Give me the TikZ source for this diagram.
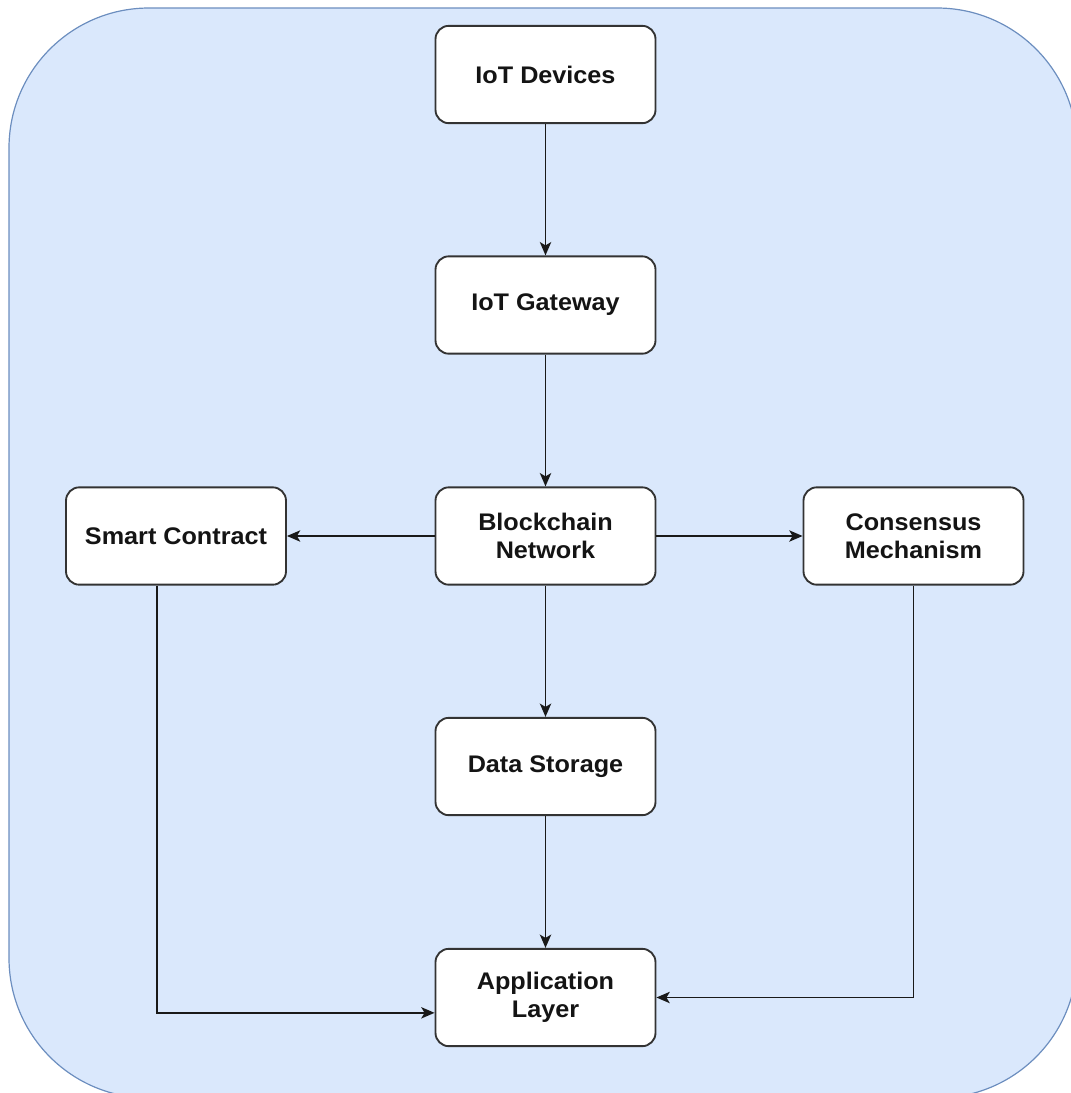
\documentclass[tikz,border=0pt]{standalone}
\usepackage{fontspec}
\setmainfont[FakeStretch=1.05]{Liberation Sans}
\usetikzlibrary{arrows.meta}
\definecolor{bgfill}{HTML}{DAE8FC}
\definecolor{bgline}{HTML}{6C8EBF}
\definecolor{boxline}{HTML}{333333}
\definecolor{txt}{HTML}{141414}
\tikzset{
  blk/.style={draw=boxline, line width=1.4pt, fill=white, rounded corners=10pt,
    minimum width=165pt, minimum height=73pt, align=center, text=txt,
    font=\fontsize{18pt}{21pt}\selectfont\bfseries, inner sep=2pt},
  arr/.style={draw=black!90, line width=1.25pt, -{Stealth[length=10pt,width=8.5pt,inset=2.5pt]}}
}
\begin{document}
\begin{tikzpicture}[x=0.75pt,y=-0.75pt]
\useasboundingbox (0,0) rectangle (1071,1093);
\begin{scope}
\clip (0,0) rectangle (1071,1093);
\draw[fill=bgfill, draw=bgline, line width=0.9pt, rounded corners=105pt] (9,8) rectangle (1077,1098);
\end{scope}
\node[blk] (dev) at (545.5,74.5) {IoT Devices};
\node[blk] (gw)  at (545.5,305) {IoT Gateway};
\node[blk] (bc)  at (545.5,536) {Blockchain\\Network};
\node[blk] (sc)  at (176,536) {Smart Contract};
\node[blk] (cm)  at (913.5,536) {Consensus\\Mechanism};
\node[blk] (ds)  at (545.5,766.5) {Data Storage};
\node[blk] (app) at (545.5,997.5) {Application\\Layer};
\draw[arr] (dev) -- (gw);
\draw[arr] (gw) -- (bc);
\draw[arr] (bc) -- (sc);
\draw[arr] (bc) -- (cm);
\draw[arr] (bc) -- (ds);
\draw[arr] (ds) -- (app);
\draw[arr] ([xshift=-14.25pt]sc.south) |- ([yshift=-11.5pt]app.west);
\draw[arr] (cm.south) |- (app.east);
\end{tikzpicture}
\end{document}
